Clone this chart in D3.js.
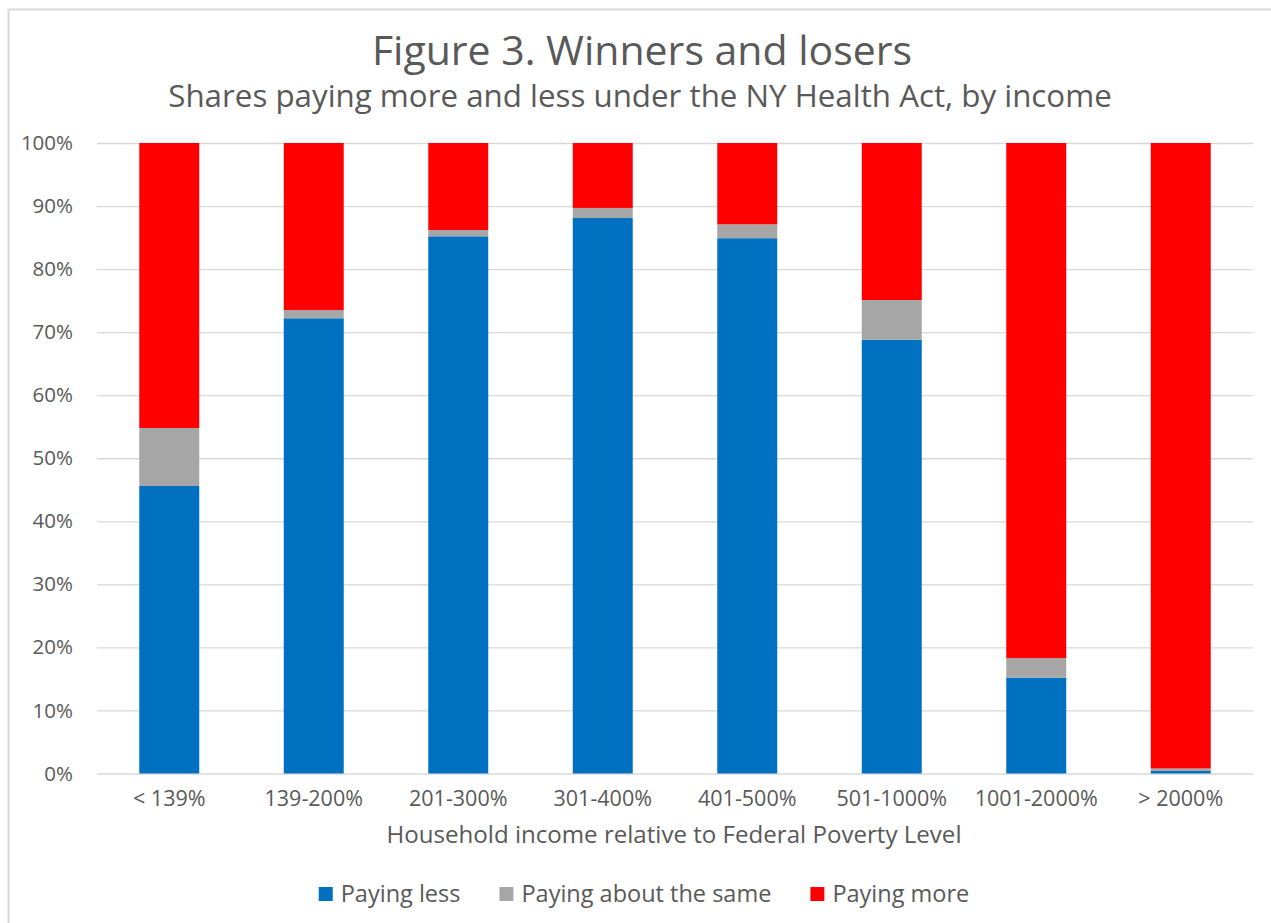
<html><head>
  <script src="https://d3js.org/d3.v7.min.js"></script>
  <style>
    body { margin: 0; background: white; }
    text { font-family: 'Open Sans', Lato, sans-serif; fill: #595959; }
    .axis path { display: none; }
    .axis line { display: none; }
    .grid line { stroke: #d9d9d9; stroke-width: 1.3; }
    .grid path { display: none; }
  </style>
</head>
<body>
<svg id="chart" width="1271" height="923"></svg>
<script>
  // data
  const categories = ["< 139%", "139-200%", "201-300%", "301-400%", "401-500%", "501-1000%", "1001-2000%", "> 2000%"];
  const seriesNames = ["Paying less", "Paying about the same", "Paying more"];
  const payingLess = [45.6, 72.2, 85.2, 88.1, 84.9, 68.8, 15.2, 0.4];
  const payingSame = [9.2, 1.3, 1.0, 1.6, 2.2, 6.3, 3.1, 0.4];
  const payingMore = payingLess.map((d, i) => +(100 - d - payingSame[i]).toFixed(1));
  const colors = ["#0070c0", "#a6a6a6", "#ff0000"];
  const yTicks = [0, 10, 20, 30, 40, 50, 60, 70, 80, 90, 100];

  const svg = d3.select("#chart");

  // outer border (chart area)
  svg.append("rect").attr("x", 8.5).attr("y", 9.5).attr("width", 1300).attr("height", 1000)
     .attr("fill", "none").attr("stroke", "#d9d9d9").attr("stroke-width", 2);

  const margin = {top: 143, left: 97, right: 18, bottom: 150};
  const plotW = 1271 - margin.left - margin.right;
  const plotH = 773.5 - margin.top;
  const g = svg.append("g").attr("transform", `translate(${margin.left},${margin.top})`);

  const x = d3.scaleBand().domain(categories).range([0, plotW]).paddingInner(0.585).paddingOuter(0.2925);
  const y = d3.scaleLinear().domain([0, 100]).range([plotH, 0]);

  // gridlines
  g.append("g").attr("class", "grid")
    .call(d3.axisLeft(y).tickValues(yTicks).tickSize(-plotW).tickFormat(""));

  const table = categories.map((c, i) => ({cat: c, less: payingLess[i], same: payingSame[i], more: payingMore[i]}));
  const stack = d3.stack().keys(["less", "same", "more"])(table);

  g.selectAll("g.series").data(stack).join("g").attr("class", "series")
    .attr("fill", (d, i) => colors[i])
    .selectAll("rect").data(d => d).join("rect")
    .attr("x", d => x(d.data.cat))
    .attr("width", x.bandwidth())
    .attr("y", d => y(d[1]))
    .attr("height", d => y(d[0]) - y(d[1]));

  // y axis labels
  const yAxis = g.append("g").attr("class", "axis")
    .call(d3.axisLeft(y).tickValues(yTicks).tickFormat(d => d + "%").tickSize(0).tickPadding(24));
  yAxis.selectAll("text").style("font-size", "20.5px").style("fill", "#595959");

  // x axis labels
  const xAxis = g.append("g").attr("class", "axis").attr("transform", `translate(0,${plotH})`)
    .call(d3.axisBottom(x).tickSize(0).tickPadding(17));
  xAxis.selectAll("text").style("font-size", "21.5px").style("fill", "#595959");

  // titles
  svg.append("text").attr("x", 642).attr("y", 65).attr("text-anchor", "middle")
    .style("font-size", "41px").text("Figure 3. Winners and losers");
  svg.append("text").attr("x", 640).attr("y", 107).attr("text-anchor", "middle")
    .style("font-size", "31.3px").text("Shares paying more and less under the NY Health Act, by income");
  svg.append("text").attr("x", 674).attr("y", 843).attr("text-anchor", "middle")
    .style("font-size", "24.1px").text("Household income relative to Federal Poverty Level");

  // legend
  const legend = svg.append("g");
  let lx = 0;
  seriesNames.forEach((name, i) => {
    const item = legend.append("g").attr("transform", `translate(${lx},0)`);
    item.append("rect").attr("x", 0).attr("y", -15).attr("width", 14).attr("height", 14).attr("fill", colors[i]);
    const t = item.append("text").attr("x", 22).attr("y", 0).style("font-size", "23.5px").text(name);
    lx += 22 + t.node().getComputedTextLength() + 39;
  });
  const lw = lx - 39;
  legend.attr("transform", `translate(${644 - lw / 2},902)`);
</script>
</body>
</html>
